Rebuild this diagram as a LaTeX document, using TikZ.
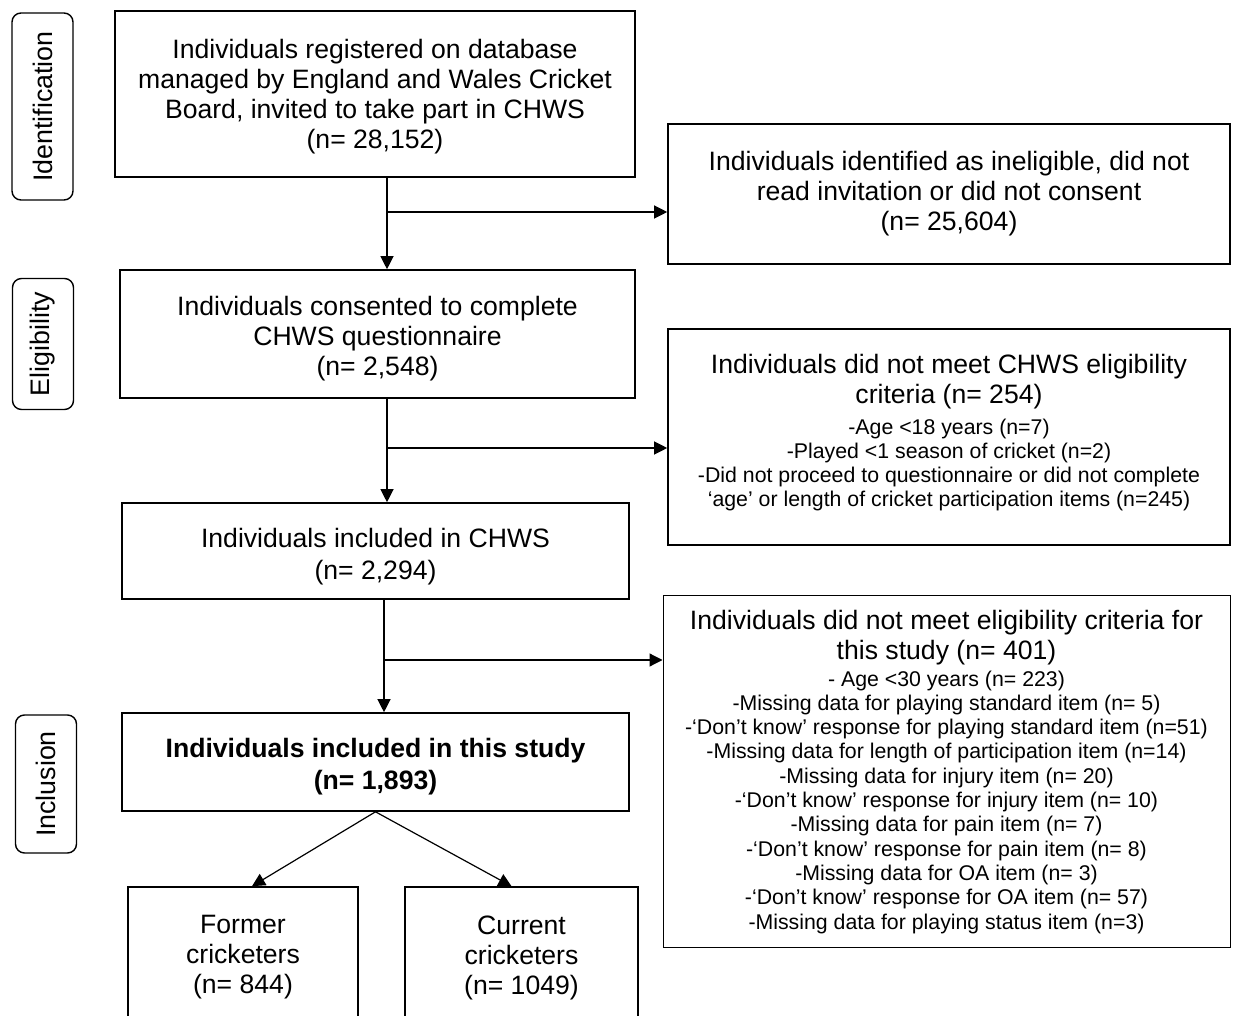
\documentclass[tikz,border=0pt]{standalone}
\usepackage{fontspec}
\setmainfont{Liberation Sans}
\usetikzlibrary{arrows.meta}
\begin{document}
\begin{tikzpicture}[x=1pt,y=-1pt,
  box/.style={draw, line width=1.6pt, inner sep=0pt},
  thinbox/.style={draw, line width=1pt, inner sep=0pt},
  big/.style={align=center, inner sep=0pt, font=\fontsize{26.6}{30}\selectfont},
  wide/.style={align=center, inner sep=0pt, font=\fontsize{26.6}{32}\selectfont},
  small/.style={align=center, inner sep=0pt, font=\fontsize{21.3}{24.3}\selectfont},
  stage/.style={draw, line width=1.4pt, rounded corners=9pt, rotate=90, inner sep=0pt, minimum height=61pt, font=\fontsize{26.8}{30}\selectfont},
  arr/.style={line width=1.2pt, -{Triangle[length=13pt,width=13pt]}}]
\useasboundingbox (0,0) rectangle (1235,1016);
\clip (0,0) rectangle (1235,1016);

% stage labels
\node[stage, minimum width=187pt] (sid) at (42.5,106.5) {Identification};
\node[stage, minimum width=131pt] (sel) at (43,344) {Eligibility};
\node[stage, minimum width=138pt] (sin) at (46,784) {Inclusion};

% boxes
\node[box, minimum width=520pt, minimum height=166pt] (b1) at (375,94) {};
\node[box, minimum width=562pt, minimum height=140pt] (b3) at (949,194) {};
\node[box, minimum width=515pt, minimum height=128pt] (b2) at (377.5,334) {};
\node[box, minimum width=562pt, minimum height=216pt] (b5) at (949,437) {};
\node[box, minimum width=507pt, minimum height=96pt] (b4) at (375.5,551) {};
\node[thinbox, minimum width=567pt, minimum height=352pt] (b7) at (946.5,771) {};
\node[box, minimum width=507pt, minimum height=98pt] (b6) at (375.5,762) {};
\node[box, minimum width=230pt, minimum height=136pt] (f) at (243,955) {};
\node[box, minimum width=233pt, minimum height=136pt] (c) at (521.5,955) {};

% texts
\node[big] (b1t) at ([yshift=-3pt]b1.center)
  {Individuals registered on database\\managed by England and Wales Cricket\\Board, invited to take part in CHWS\\(n= 28,152)};
\node[big] (b3t) at ([yshift=0pt]b3.center)
  {Individuals identified as ineligible, did not\\read invitation or did not consent\\(n= 25,604)};
\node[big] (b2t) at ([yshift=-5pt]b2.center)
  {Individuals consented to complete\\CHWS questionnaire\\(n= 2,548)};
\node[big] (b5t) at (949,382) {Individuals did not meet CHWS eligibility\\criteria (n= 254)};
\node[small] (b5s) at (949,465) {-Age <18 years (n=7)\\-Played <1 season of cricket (n=2)\\-Did not proceed to questionnaire or did not complete\\‘age’ or length of cricket participation items (n=245)};
\node[wide] (b4t) at ([yshift=-6pt]b4.center)
  {Individuals included in CHWS\\(n= 2,294)};
\node[big] (b7t) at (946.5,638) {Individuals did not meet eligibility criteria for\\this study (n= 401)};
\node[small] (b7s) at (946.5,802) {- Age <30 years (n= 223)\\-Missing data for playing standard item (n= 5)\\-‘Don’t know’ response for playing standard item (n=51)\\-Missing data for length of participation item (n=14)\\-Missing data for injury item (n= 20)\\-‘Don’t know’ response for injury item (n= 10)\\-Missing data for pain item (n= 7)\\-‘Don’t know’ response for pain item (n= 8)\\-Missing data for OA item (n= 3)\\-‘Don’t know’ response for OA item (n= 57)\\-Missing data for playing status item (n=3)};
\node[wide, font=\fontsize{26.6}{32}\selectfont\bfseries] (b6t) at ([yshift=-5pt]b6.center)
  {Individuals included in this study\\(n= 1,893)};
\node[big] (ft) at ([yshift=-2.5pt]f.center) {Former\\cricketers\\(n= 844)};
\node[big] (ct) at ([yshift=-2.5pt]c.center) {Current\\cricketers\\(n= 1049)};

% connectors
\coordinate (j1) at (387,212);
\draw[arr] (j1 |- b1.south) -- (j1 |- b2.north);
\draw[arr] (j1) -- (j1 -| b3.west);
\coordinate (j2) at (387,448);
\draw[arr] (j2 |- b2.south) -- (j2 |- b4.north);
\draw[arr] (j2) -- (j2 -| b5.west);
\coordinate (j3) at (384,660);
\draw[arr] (j3 |- b4.south) -- (j3 |- b6.north);
\draw[arr] (j3) -- (j3 -| b7.west);
\draw[arr] (b6.south) -- ([xshift=9pt]f.north);
\draw[arr] (b6.south) -- ([xshift=-10pt]c.north);
\end{tikzpicture}
\end{document}
